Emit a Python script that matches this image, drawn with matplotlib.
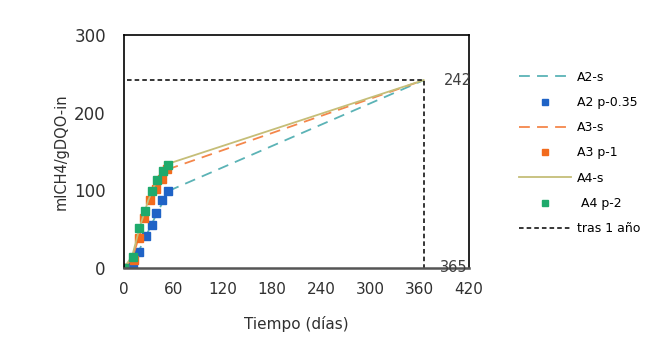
import matplotlib
matplotlib.use("Agg")
import matplotlib.pyplot as plt

# datos medidos (puntos)
dias_a2 = [0, 11, 19, 27, 34, 39, 47, 54]
a2_p = [0, 3, 20, 41, 56, 71, 87, 99]
dias_a3 = [0, 12, 18, 25, 32, 39, 46, 53]
a3_p = [0, 10, 38, 65, 87, 102, 115, 127]
dias_a4 = [0, 11, 18, 26, 34, 40, 48, 54]
a4_p = [0, 14, 51, 74, 99, 113, 125, 133]

# curvas simuladas
dias_sim = [0, 10, 20, 30, 40, 50, 56, 365]
a2_s = [0, 6, 26, 48, 70, 90, 100, 242]
a3_s = [0, 12, 45, 78, 103, 120, 128, 242]
a4_s = [0, 15, 55, 88, 113, 128, 135, 242]

# tras 1 año
dia_final = 365
valor_final = 242

xticks = [0, 60, 120, 180, 240, 300, 360, 420]
yticks = [0, 100, 200, 300]

fig = plt.figure(figsize=(6.66, 3.48), dpi=100)
ax = fig.add_axes([0.186, 0.230, 0.518, 0.669])

ax.plot(dias_sim, a2_s, color="#5BB3B6", ls=(0, (6, 4)), lw=1.3, label="A2-s")
ax.plot(dias_a2, a2_p, ls="none", marker="s", ms=6, color="#1F63C6", label="A2 p-0.35")
ax.plot(dias_sim, a3_s, color="#F4874B", ls=(0, (6, 4)), lw=1.3, label="A3-s")
ax.plot(dias_a3, a3_p, ls="none", marker="s", ms=6, color="#F26B1D", label="A3 p-1")
ax.plot(dias_sim, a4_s, color="#C5BE78", lw=1.3, label="A4-s")
ax.plot(dias_a4, a4_p, ls="none", marker="s", ms=6, color="#1FAA6C", label=" A4 p-2")
ax.plot([4, dia_final, dia_final], [valor_final, valor_final, 0], color="black",
        ls=(0, (3, 2)), lw=1.1, label="tras 1 año")

ax.text(389, valor_final, str(valor_final), ha="left", va="center", fontsize=10.5, color="#404040")
ax.text(385, 0, str(dia_final), ha="left", va="center", fontsize=10.5, color="#404040")

ax.set_xlim(0, 420)
ax.set_ylim(0, 300)
ax.set_xticks(xticks)
ax.set_yticks(yticks)
ax.tick_params(length=0, colors="#303030")
ax.tick_params(axis="x", labelsize=11, pad=10)
ax.tick_params(axis="y", labelsize=12, pad=13)
for s in ["left", "top", "right"]:
    ax.spines[s].set_color("black")
    ax.spines[s].set_linewidth(1.2)
ax.spines["bottom"].set_color("#555555")
ax.spines["bottom"].set_linewidth(1.8)

ax.set_xlabel("Tiempo (días)", fontsize=11, color="#303030", labelpad=14)
ax.set_ylabel("mlCH4/gDQO-in", fontsize=10.5, color="#303030", labelpad=4)

ax.legend(loc="upper left", bbox_to_anchor=(1.13, 0.869), frameon=False, fontsize=9,
          handlelength=4.15, labelspacing=0.98, markerscale=0.75, handletextpad=0.5,
          borderaxespad=0)

fig.savefig("out.png", dpi=100)
